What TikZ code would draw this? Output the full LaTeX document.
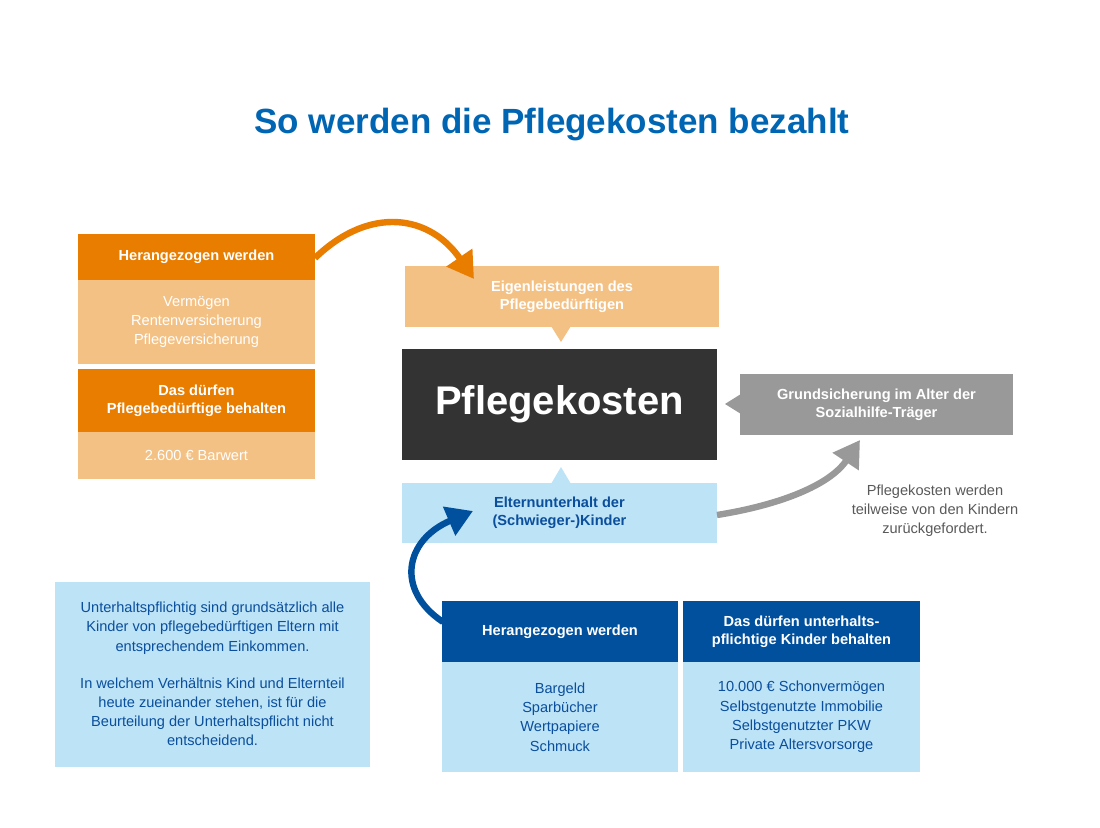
\documentclass[tikz,border=0pt]{standalone}
\usepackage{fontspec}
\setmainfont{Liberation Sans}
\usetikzlibrary{arrows.meta}
\definecolor{orD}{RGB}{232,125,0}
\definecolor{orL}{RGB}{244,193,133}
\definecolor{blD}{RGB}{0,80,158}
\definecolor{blL}{RGB}{189,227,247}
\definecolor{blT}{RGB}{10,78,156}
\definecolor{grB}{RGB}{153,153,153}
\definecolor{grT}{RGB}{89,89,89}
\definecolor{dark}{RGB}{51,51,51}
\definecolor{ttl}{RGB}{0,102,179}
\begin{document}
\begin{tikzpicture}[x=0.5pt,y=-0.5pt,
  box/.style={inner sep=0pt,outer sep=0pt,align=center},
  bold/.style={font=\fontsize{7.3}{9}\selectfont\bfseries},
  norm/.style={font=\fontsize{7.3}{9.6}\selectfont},
  bigarrow/.style={line width=3.2pt,-{Triangle[length=13pt,width=15pt]}}]
\useasboundingbox (0,0) rectangle (1100,828);
\node[box,text=ttl,font=\fontsize{17.5}{20}\selectfont\bfseries] (title) at (552,125) {So werden die Pflegekosten bezahlt};
% left orange
\fill[orD] (78,234) rectangle (315,280); \node[box,bold,text=white] (h1) at (196.5,257) {Herangezogen werden};
\fill[orL] (78,280) rectangle (315,364); \node[box,norm,text=white] (l1) at (196.5,322) {Vermögen\\Rentenversicherung\\Pflegeversicherung};
\fill[orD] (78,369) rectangle (315,432); \node[box,bold,text=white] (h2) at (196.5,400.5) {Das dürfen\\Pflegebedürftige behalten};
\fill[orL] (78,432) rectangle (315,479); \node[box,norm,text=white] (l2) at (196.5,455.5) {2.600 € Barwert};
% center
\fill[orL] (405,266) rectangle (719,327); \fill[orL] (551,326) -- (571,326) -- (561,342) -- cycle;
\node[box,bold,text=white] (eig) at (562,296.5) {Eigenleistungen des\\Pflegebedürftigen};
\fill[dark] (402,349) rectangle (717,460);
\node[box,text=white,font=\fontsize{20}{24}\selectfont\bfseries] (pk) at (559.5,404.5) {Pflegekosten};
\fill[grB] (740,374) rectangle (1013,435); \fill[grB] (741,394) -- (741,414) -- (725,404) -- cycle;
\node[box,bold,text=white] (gs) at (876.5,404.5) {Grundsicherung im Alter der\\Sozialhilfe-Träger};
\fill[blL] (402,483) rectangle (717,543); \fill[blL] (551,484) -- (571,484) -- (561,467) -- cycle;
\node[box,bold,text=blT] (eu) at (559.5,513) {Elternunterhalt der\\(Schwieger-)Kinder};
\node[box,norm,text=grT] (gt) at (935,511) {Pflegekosten werden\\teilweise von den Kindern\\zurückgefordert.};
% left note
\fill[blL] (55,582) rectangle (370,767);
\node[box,norm,text=blT] (note) at (212.5,674) {Unterhaltspflichtig sind grundsätzlich alle\\Kinder von pflegebedürftigen Eltern mit\\entsprechendem Einkommen.\\[9pt]In welchem Verhältnis Kind und Elternteil\\heute zueinander stehen, ist für die\\Beurteilung der Unterhaltspflicht nicht\\entscheidend.};
% bottom blue
\fill[blD] (442,601) rectangle (678,662); \node[box,bold,text=white] (bh1) at (560,631.5) {Herangezogen werden};
\fill[blL] (442,662) rectangle (678,772); \node[box,norm,text=blT] (bl1) at (560,717) {Bargeld\\Sparbücher\\Wertpapiere\\Schmuck};
\fill[blD] (683,601) rectangle (920,662); \node[box,bold,text=white] (bh2) at (801.5,631.5) {Das dürfen unterhalts-\\pflichtige Kinder behalten};
\fill[blL] (683,662) rectangle (920,772); \node[box,norm,text=blT] (bl2) at (801.5,717) {10.000 € Schonvermögen\\Selbstgenutzte Immobilie\\Selbstgenutzter PKW\\Private Altersvorsorge};
% arrows
\coordinate (oa) at (315,258); \coordinate (ob) at (474,279);
\draw[bigarrow,orD] (oa) .. controls (370,205) and (430,215) .. (ob);
\coordinate (ga) at (717,515); \coordinate (gb) at (860,440);
\draw[bigarrow,grB] (ga) .. controls (780,505) and (830,485) .. (gb);
\coordinate (ba) at (443,622); \coordinate (bb) at (473,511);
\draw[bigarrow,blD] (ba) .. controls (395,590) and (405,540) .. (bb);
\end{tikzpicture}
\end{document}
